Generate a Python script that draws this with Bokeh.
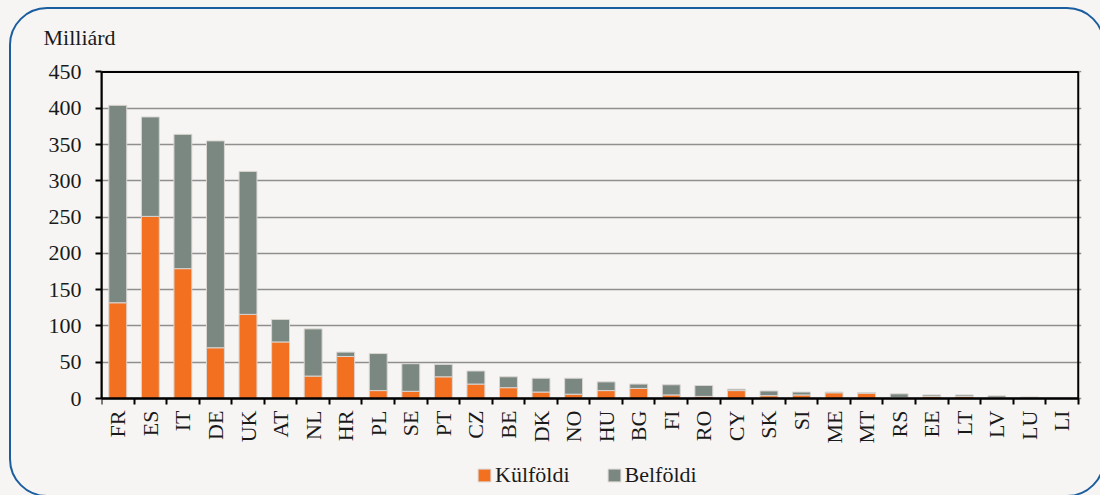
import math
from bokeh.plotting import figure
from bokeh.models import (ColumnDataSource, FixedTicker, Range1d, Legend, Title, LabelSet,
                          BoxAnnotation, GlobalInlineStyleSheet)
from bokeh.core.properties import value
from bokeh.embed import file_html
from bokeh.resources import INLINE

countries = ["FR", "ES", "IT", "DE", "UK", "AT", "NL", "HR", "PL", "SE", "PT", "CZ", "BE",
             "DK", "NO", "HU", "BG", "FI", "RO", "CY", "SK", "SI", "ME", "MT", "RS", "EE",
             "LT", "LV", "LU", "LI"]
kulfoldi = [132, 251, 179, 70, 116, 78, 31, 58, 11, 10, 30, 20, 15, 9, 6, 11, 14, 5, 3, 11,
            4, 5, 8, 7.5, 1.5, 3, 3, 1, 1, 0.2]
belfoldi = [272, 137, 185, 285, 197, 31, 65, 6, 51, 38, 17, 18, 15, 19, 22, 12, 6, 14, 15, 2,
            6.5, 4, 1, 0.5, 5, 2, 2, 2.7, 1.3, 0.3]
series_names = ["Külföldi", "Belföldi"]
series_colors = ["#F37021", "#7A8881"]
y_ticks = [0, 50, 100, 150, 200, 250, 300, 350, 400, 450]
unit_label = "Milliárd"

FONT = "Liberation Serif"
FS = "22px"
TXT = "#1a1a1a"
BG = "#F7F5F3"

n = len(countries)
xpos = [i + 0.5 for i in range(n)]
source = ColumnDataSource(data={"x": xpos, "Külföldi": kulfoldi, "Belföldi": belfoldi,
                                "zero": [0] * n, "name": countries})

# the frame extends below the value axis so that category labels and legend sit inside it
p = figure(frame_width=980, frame_height=418, output_backend="svg", toolbar_location=None,
           x_range=Range1d(0, 30.1), y_range=Range1d(-123.9, 452),
           min_border_left=101, min_border_right=19, min_border_top=70, min_border_bottom=0)
p.background_fill_color = BG
p.border_fill_color = BG
p.outline_line_color = None

renderers = p.vbar_stack(series_names, x="x", width=0.55, source=source,
                         color=series_colors, line_color="#DAD6D2", line_width=1)

# plot box
p.add_layout(BoxAnnotation(left=0, right=n, bottom=0, top=450, fill_alpha=0,
                           line_color="black", line_alpha=1.0, line_width=2))

# x axis: category boundary ticks at value 0
xa = p.xaxis[0]
xa.fixed_location = 0
xa.bounds = (0, n)
xa.ticker = FixedTicker(ticks=[], minor_ticks=list(range(n + 1)))
xa.major_tick_out = 0
xa.major_tick_in = 0
xa.major_label_standoff = 0
xa.minor_tick_out = 6
xa.minor_tick_in = 0
xa.minor_tick_line_color = "black"
xa.minor_tick_line_width = 2
xa.axis_line_color = "black"
xa.axis_line_width = 2

# category labels
p.add_layout(LabelSet(x="x", y="zero", text="name", source=source, y_offset=-12,
                      angle=math.pi / 2, text_align="right", text_baseline="middle",
                      text_font=value(FONT), text_font_size=FS, text_color=TXT))

ya = p.yaxis[0]
ya.bounds = (0, 450)
ya.ticker = FixedTicker(ticks=y_ticks)
ya.major_tick_out = 6
ya.major_tick_in = 0
ya.minor_tick_line_color = None
ya.major_tick_line_color = "black"
ya.major_tick_line_width = 2
ya.axis_line_color = "black"
ya.axis_line_width = 2
ya.major_label_standoff = 14
ya.major_label_text_font = FONT
ya.major_label_text_font_size = FS
ya.major_label_text_color = TXT

p.xgrid.grid_line_color = None
p.ygrid.ticker = FixedTicker(ticks=y_ticks)
p.ygrid.bounds = (0, n)
p.ygrid.grid_line_color = "#8F8F8F"
p.ygrid.grid_line_width = 1.5

# legend (inside the extended frame, below the labels)
legend = Legend(items=[(name, [r]) for name, r in zip(series_names, renderers)],
                location=(375, 0), orientation="horizontal",
                background_fill_alpha=0, border_line_color=None,
                label_text_font=FONT, label_text_font_size=FS, label_text_color=TXT,
                glyph_width=16, glyph_height=16, label_standoff=3, spacing=36,
                padding=0, margin=0)
p.legend.visible = False
p.add_layout(legend, "center")

# unit label
p.add_layout(Title(text=unit_label, align="left", offset=-58, standoff=41,
                   text_font=FONT, text_font_size=FS, text_color=TXT,
                   text_font_style="normal"), "above")

# rounded outer border (decorative frame of the page)
p.stylesheets = [GlobalInlineStyleSheet(css=(
    "body { background: #F7F5F3; }"
    "body::before { content: ''; position: fixed; left: 9px; top: 7px; width: 1096px;"
    " height: 490px; border: 2px solid #1B5EA0; border-radius: 38px; box-sizing: border-box;"
    " pointer-events: none; z-index: 100; }"))]

open("out.html", "w").write(file_html(p, INLINE))
